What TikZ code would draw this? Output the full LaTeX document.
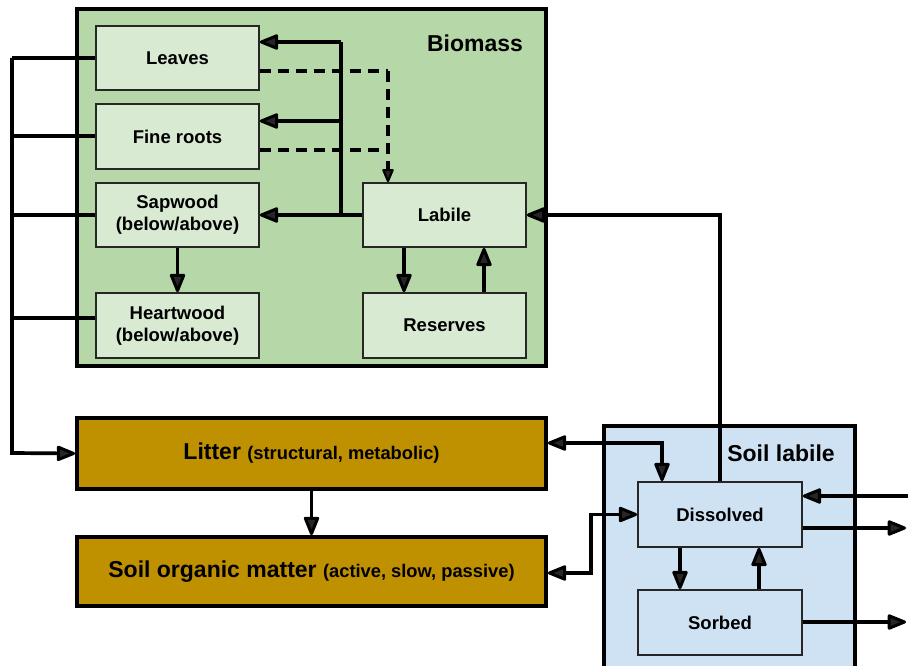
\documentclass[tikz,border=0pt]{standalone}
\usepackage{fontspec}
\setmainfont{Liberation Sans}
\usetikzlibrary{arrows.meta,calc}
\definecolor{bioG}{HTML}{B6D7A8}
\definecolor{inG}{HTML}{D9EAD3}
\definecolor{litB}{HTML}{BF9000}
\definecolor{soilB}{HTML}{CFE2F3}
\tikzset{
  tipA/.tip={Triangle[length=21pt,width=16pt,fill=black!85,line width=3pt,round]},
  tipB/.tip={Triangle[length=15pt,width=12pt,fill=black!85,line width=2.2pt,round]},
  outerbox/.style={draw=black,line width=3.8pt,rectangle},
  innerbox/.style={draw=black!85,line width=1.7pt,rectangle,minimum width=163pt,align=center,
     font=\fontsize{18.5}{22}\selectfont\bfseries,inner sep=0pt},
  flow/.style={line width=3.7pt,-tipA},
  flow2/.style={line width=3.7pt,tipA-tipA},
  dflow/.style={line width=3.2pt,dash pattern=on 11pt off 7pt,-tipB},
  dline/.style={line width=3.2pt,dash pattern=on 11pt off 7pt},
  plain/.style={line width=3.7pt},
  title/.style={font=\fontsize{23}{26}\selectfont\bfseries}
}
\begin{document}
\begin{tikzpicture}[x=1pt,y=-1pt]
\useasboundingbox (0,0) rectangle (908,666);
% containers
\node[outerbox,fill=bioG,minimum width=469pt,minimum height=357pt] (Biomass) at (311.5,187.5) {};
\node[title,anchor=center] (BiomassT) at (475,43) {Biomass};
\node[outerbox,fill=soilB,minimum width=251pt,minimum height=250pt] (Soil) at (729.5,551) {};
\node[title] (SoilT) at (781,453) {Soil labile};
% biomass pools
\node[innerbox,fill=inG,minimum height=64pt] (Leaves) at (177.5,58) {Leaves};
\node[innerbox,fill=inG,minimum height=65pt] (Froots) at (177.5,136.5) {Fine roots};
\node[innerbox,fill=inG,minimum height=64pt] (Sapwood) at (177.5,215) {Sapwood\\(below/above)};
\node[innerbox,fill=inG,minimum height=65pt] (Heartwood) at (177.5,325.5) {Heartwood\\(below/above)};
\node[innerbox,fill=inG,minimum height=64pt] (Labile) at (444.5,215) {Labile};
\node[innerbox,fill=inG,minimum height=65pt] (Reserves) at (444.5,325.5) {Reserves};
% litter and SOM
\node[outerbox,fill=litB,minimum width=469pt,minimum height=71pt] (Litter) at (311.5,453.5)
  {\fontsize{23}{26}\selectfont\bfseries Litter \fontsize{18.3}{22}\selectfont(structural, metabolic)};
\node[outerbox,fill=litB,minimum width=469pt,minimum height=69pt] (SOM) at (311.5,571.5)
  {\fontsize{23}{26}\selectfont\bfseries Soil organic matter \fontsize{18.3}{22}\selectfont(active, slow, passive)};
% soil pools
\node[innerbox,fill=soilB,minimum width=164pt,minimum height=65pt] (Dissolved) at (720,514.5) {Dissolved};
\node[innerbox,fill=soilB,minimum width=164pt,minimum height=65pt] (Sorbed) at (720,622.5) {Sorbed};
% coordinates
\coordinate (jS) at (341,215);
\coordinate (jL) at (341,42);
\coordinate (jF) at (341,121);
\coordinate (dL) at (388,71);
\coordinate (dF) at (388,150);
\coordinate (cTop) at (12,58);
\coordinate (cF) at (12,136);
\coordinate (cS) at (12,215);
\coordinate (cH) at (12,318);
\coordinate (cB) at (12,453);
\coordinate (lx) at (662,443);
\coordinate (sx) at (591,573);
\coordinate (e1) at (908,496);
\coordinate (e2) at (906,528);
\coordinate (e3) at (906,622);
% allocation from labile
\draw[plain] (Labile.west) -- (jS) -- (jL);
\draw[flow] (Labile.west) -- (Sapwood.east);
\draw[flow] (jL) -- (Leaves.east |- jL);
\draw[flow] (jF) -- (Froots.east |- jF);
% retranslocation (dashed)
\draw[dline] (Leaves.east |- dL) -- (dL);
\draw[dline] (Froots.east |- dF) -- (dF);
\draw[dflow] (dL) -- (dL |- Labile.north);
% internal biomass
\draw[flow] (Sapwood.south) -- (Heartwood.north);
\draw[flow] (Labile.south -| 404,0) -- (Reserves.north -| 404,0);
\draw[flow] (Reserves.north -| 484,0) -- (Labile.south -| 484,0);
% litterfall collector
\draw[plain] (Leaves.west) -- (cTop);
\draw[plain] (Froots.west |- cF) -- (cF);
\draw[plain] (Sapwood.west) -- (cS);
\draw[plain] (Heartwood.west |- cH) -- (cH);
\draw[flow] (cTop) -- (cB) -- (Litter.west);
\draw[flow] (Litter.south) -- (SOM.north);
% soil exchanges
\draw[flow] (Dissolved.north) |- (Labile.east);
\draw[flow2] (Litter.east |- lx) -| (Dissolved.north -| lx);
\draw[flow2] (SOM.east |- sx) -- (sx) |- (Dissolved.west);
\draw[flow] (Dissolved.south -| 680,0) -- (Sorbed.north -| 680,0);
\draw[flow] (Sorbed.north -| 759,0) -- (Dissolved.south -| 759,0);
\draw[flow] (e1) -- (Dissolved.east |- e1);
\draw[flow] (Dissolved.east |- e2) -- (e2);
\draw[flow] (Sorbed.east |- e3) -- (e3);
\end{tikzpicture}
\end{document}
